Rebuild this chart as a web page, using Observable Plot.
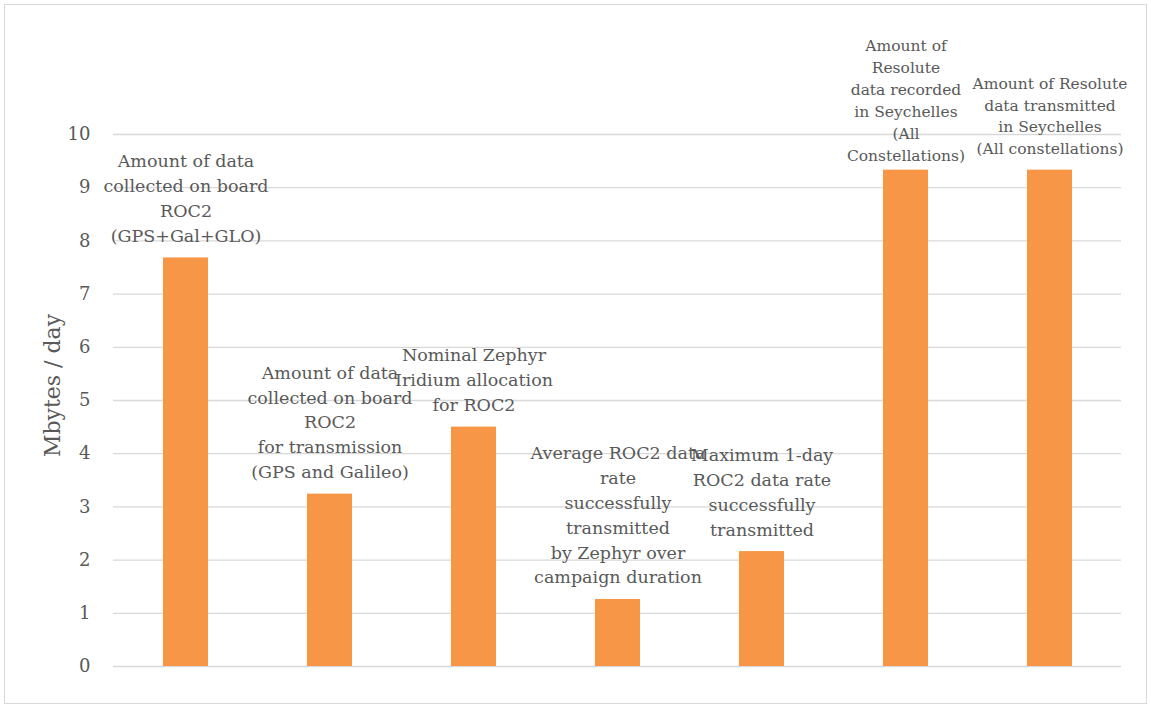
<!DOCTYPE html>
<html>
<head>
<meta charset="utf-8">
<script src="https://cdn.jsdelivr.net/npm/d3@7"></script>
<script src="https://cdn.jsdelivr.net/npm/@observablehq/plot@0.6"></script>
<style>
  body { margin: 0; background: #fff; }
  #chart { position: relative; width: 1151px; height: 707px; }
  #chart .border {
    position: absolute; left: 4px; top: 4px; width: 1141px; height: 698px;
    border: 1.5px solid #d9d9d9; pointer-events: none;
  }
</style>
</head>
<body>
<div id="chart"><div class="border"></div></div>
<script>
// Data budget items (Mbytes per day)
const categories = [
  "Amount of data\ncollected on board\nROC2\n(GPS+Gal+GLO)",
  "Amount of data\ncollected on board\nROC2\nfor transmission\n(GPS and Galileo)",
  "Nominal Zephyr\nIridium allocation\nfor ROC2",
  "Average ROC2 data\nrate\nsuccessfully\ntransmitted\nby Zephyr over\ncampaign duration",
  "Maximum 1-day\nROC2 data rate\nsuccessfully\ntransmitted",
  "Amount of\nResolute\ndata recorded\nin Seychelles\n(All\nConstellations)",
  "Amount of Resolute\ndata transmitted\nin Seychelles\n(All constellations)"
];
const values = [7.68, 3.24, 4.5, 1.26, 2.16, 9.33, 9.33];
const yTicks = [0, 1, 2, 3, 4, 5, 6, 7, 8, 9, 10];
const yLabel = "Mbytes / day";

const data = categories.map((label, i) => ({label, value: values[i], i}));

const textColor = "#595959";
const labelOpts = {
  x: "label", y: "value", text: "label",
  lineAnchor: "bottom", fill: textColor, textAnchor: "middle"
};

const plot = Plot.plot({
  width: 1151,
  height: 707,
  marginLeft: 113,
  marginRight: 30,
  marginTop: 134,
  marginBottom: 41,
  style: {fontFamily: "'DejaVu Serif', serif", background: "transparent", overflow: "visible"},
  x: {domain: categories, paddingInner: 0.69, paddingOuter: 0.345, axis: null},
  y: {domain: [0, 10], label: null},
  marks: [
    Plot.gridY(yTicks, {stroke: "#d9d9d9", strokeOpacity: 1, strokeWidth: 1.3}),
    Plot.axisY(yTicks, {tickSize: 0, tickPadding: 23, fontSize: 18, fill: textColor, label: null, tickFormat: "d"}),
    Plot.barY(data, {x: "label", y: "value", fill: "#f79646"}),
    // value-item captions above each bar
    Plot.text(data.filter(d => d.i < 5), {...labelOpts, fontSize: 17.5, lineHeight: 1.42, dy: -16}),
    Plot.text(data.filter(d => d.i === 5), {...labelOpts, fontSize: 15.5, lineHeight: 1.42, dy: -9}),
    Plot.text(data.filter(d => d.i === 6), {...labelOpts, fontSize: 15.5, lineHeight: 1.4, dy: -16}),
    // vertical axis title
    Plot.text([yLabel], {frameAnchor: "left", textAnchor: "middle", rotate: -90, dx: -61, dy: -15, fontSize: 22, fill: textColor})
  ]
});
document.getElementById("chart").appendChild(plot);
</script>
</body>
</html>
